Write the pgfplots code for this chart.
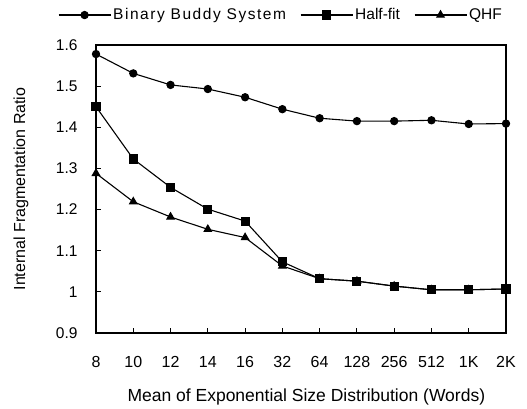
\documentclass[border=0pt]{standalone}
\usepackage{pgfplots}
\pgfplotsset{compat=1.18}
\usepackage{fontspec}
\setmainfont{Liberation Sans}
\begin{document}
\begin{tikzpicture}
\useasboundingbox (0,0) rectangle (527pt,409pt);
\begin{axis}[
  at={(96pt,76pt)}, anchor=south west,
  width=410pt, height=288pt, scale only axis,
  xmin=0, xmax=11, ymin=0.9, ymax=1.6,
  xtick={0,...,11},
  xticklabels={8,10,12,14,16,32,64,128,256,512,1K,2K},
  ytick={0.9,1,1.1,1.2,1.3,1.4,1.5,1.6},
  /pgf/number format/assume math mode=true,
  tick align=inside, xtick pos=bottom, ytick pos=left,
  major tick length=5pt,
  axis line style={line width=1.4pt},
  tick style={line width=1pt, black},
  xticklabel style={font=\fontsize{16}{19}\selectfont, yshift=-20pt},
  yticklabel style={font=\fontsize{15.5}{18}\selectfont, xshift=-15pt},
  xlabel={Mean of Exponential Size Distribution (Words)},
  ylabel={Internal Fragmentation Ratio},
  xlabel style={font=\fontsize{17.5}{20}\selectfont, at={(axis description cs:0.513,-0.222)}, anchor=center},
  ylabel style={font=\fontsize{16}{19}\selectfont, at={(axis description cs:-0.183,0.5)}, anchor=center},
  clip=false,
  legend columns=3,
  legend style={draw=none, fill=none, at={(axis description cs:0.451,1.104)}, anchor=center,
     font=\fontsize{15.5}{18}\selectfont, /tikz/every even column/.append style={column sep=12pt}},
  legend image code/.code={\draw[mark repeat=2,mark phase=2,#1] plot coordinates {(0pt,0pt)(26pt,0pt)(52pt,0pt)};},
]
\addplot[black, line width=1.1pt, mark=*, mark size=3.6pt, mark options={solid, fill=black}] coordinates {
(0,1.578)(1,1.531)(2,1.503)(3,1.493)(4,1.473)(5,1.444)(6,1.422)(7,1.415)(8,1.415)(9,1.417)(10,1.408)(11,1.409)};
\addlegendentry{\addfontfeature{LetterSpace=10}Binary Buddy System}
\addplot[black, line width=1.1pt, mark=square*, mark size=4pt, mark options={solid, fill=black}] coordinates {
(0,1.450)(1,1.323)(2,1.254)(3,1.201)(4,1.172)(5,1.073)(6,1.032)(7,1.026)(8,1.014)(9,1.005)(10,1.005)(11,1.007)};
\addlegendentry{Half-fit}
\addplot[black, line width=1.1pt, mark=triangle*, mark size=4.2pt, mark options={solid, fill=black}] coordinates {
(0,1.288)(1,1.219)(2,1.182)(3,1.152)(4,1.132)(5,1.063)(6,1.032)(7,1.026)(8,1.014)(9,1.005)(10,1.005)(11,1.007)};
\addlegendentry{QHF}
\end{axis}
\end{tikzpicture}
\end{document}
